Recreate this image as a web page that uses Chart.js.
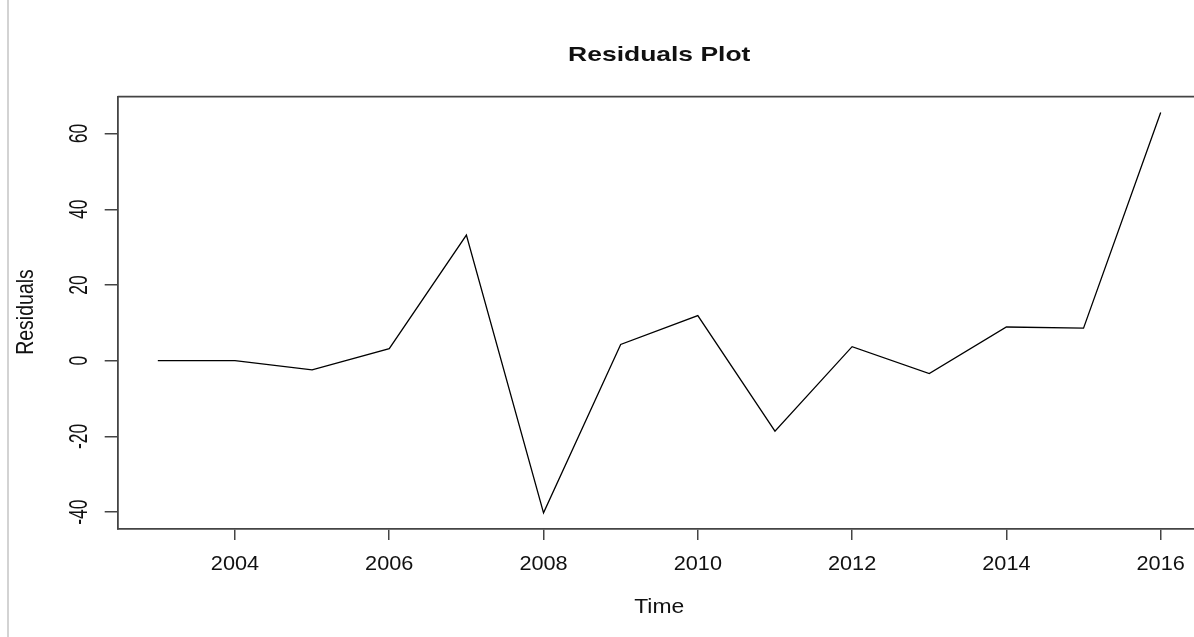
<!DOCTYPE html>
<html>
<head>
<meta charset="utf-8">
<title>Residuals Plot</title>
<script src="https://cdn.jsdelivr.net/npm/chart.js@4/dist/chart.umd.min.js"></script>
<style>
    body { margin: 0; background: #fff; overflow: hidden; }
    #wrap { width: 1194px; height: 637px; overflow: hidden; position: relative; }
    canvas { display: block; }
</style>
</head>
<body>
<div id="wrap"><canvas id="residChart" width="1202" height="637"></canvas></div>
<script>
// Data
const years = [2003, 2004, 2005, 2006, 2007, 2008, 2009, 2010, 2011, 2012, 2013, 2014, 2015, 2016];
const residuals = [0, 0, -2.4, 3.2, 33.2, -40.2, 4.3, 11.9, -18.6, 3.7, -3.4, 8.9, 8.6, 65.6];
const xTicks = [2004, 2006, 2008, 2010, 2012, 2014, 2016];
const yTicks = [-40, -20, 0, 20, 40, 60];

const FONT = '"Liberation Sans", Arial, sans-serif';
const AXIS_COLOR = '#444';

// draw text with a horizontal stretch (R output looks a bit wide)
function drawText(ctx, text, x, y, font, stretch, rotated) {
    ctx.save();
    ctx.translate(x, y);
    if (rotated) {
        ctx.rotate(-Math.PI / 2);
        ctx.scale(1, stretch);
    } else {
        ctx.scale(stretch, 1);
    }
    ctx.font = font;
    ctx.fillStyle = '#111';
    ctx.textAlign = 'center';
    ctx.textBaseline = 'alphabetic';
    ctx.fillText(text, 0, 0);
    ctx.restore();
}

// Frame, labels and titles
const rPlotDecor = {
    id: 'rPlotDecor',
    beforeDraw(chart) {
        const ctx = chart.ctx;
        ctx.save();
        ctx.fillStyle = '#fff';
        ctx.fillRect(0, 0, chart.width, chart.height);
        // page edge line on the left
        ctx.strokeStyle = '#c4c4c4';
        ctx.lineWidth = 1.5;
        ctx.beginPath();
        ctx.moveTo(8, 0);
        ctx.lineTo(8, chart.height);
        ctx.stroke();
        ctx.restore();
    },
    afterDraw(chart) {
        const ctx = chart.ctx;
        const area = chart.chartArea;
        const xs = chart.scales.x;
        const ys = chart.scales.y;
        const midX = (area.left + area.right) / 2;

        // top and right edges of the box
        ctx.save();
        ctx.strokeStyle = AXIS_COLOR;
        ctx.lineWidth = 1.8;
        ctx.beginPath();
        ctx.moveTo(area.left, area.top);
        ctx.lineTo(area.right, area.top);
        ctx.lineTo(area.right, area.bottom);
        ctx.stroke();
        ctx.restore();

        xTicks.forEach(v => {
            drawText(ctx, String(v), xs.getPixelForValue(v), 569.5, '20px ' + FONT, 1.085, false);
        });
        yTicks.forEach(v => {
            drawText(ctx, String(v), 87.3, ys.getPixelForValue(v), '17.5px ' + FONT, 1.5, true);
        });

        drawText(ctx, 'Residuals Plot', midX, 61, 'bold 21px ' + FONT, 1.26, false);
        drawText(ctx, 'Time', midX, 613, '21px ' + FONT, 1.09, false);
        drawText(ctx, 'Residuals', 33.3, 312, '19.5px ' + FONT, 1.2, true);
    }
};

function setupResidualsChart() {
    const ctx = document.getElementById('residChart').getContext('2d');
    new Chart(ctx, {
        type: 'line',
        data: {
            datasets: [{
                label: 'Residuals',
                data: years.map((yr, i) => ({ x: yr, y: residuals[i] })),
                borderColor: '#000',
                borderWidth: 1.3,
                pointRadius: 0,
                tension: 0,
                fill: false
            }]
        },
        options: {
            responsive: false,
            devicePixelRatio: 1,
            animation: false,
            layout: {
                padding: { top: 96.7, right: 1.2, bottom: 0, left: 0 }
            },
            plugins: {
                legend: { display: false },
                tooltip: { enabled: false }
            },
            scales: {
                x: {
                    type: 'linear',
                    min: 2002.48,
                    max: 2016.52,
                    afterBuildTicks: (scale) => {
                        scale.ticks = xTicks.map(v => ({ value: v }));
                    },
                    afterFit: (scale) => { scale.height = 108; },
                    ticks: { display: false },
                    grid: {
                        drawOnChartArea: false,
                        drawTicks: true,
                        tickLength: 11,
                        color: AXIS_COLOR,
                        lineWidth: 1.5
                    },
                    border: { display: true, color: AXIS_COLOR, width: 1.8 }
                },
                y: {
                    type: 'linear',
                    min: -44.47,
                    max: 69.75,
                    afterBuildTicks: (scale) => {
                        scale.ticks = yTicks.map(v => ({ value: v }));
                    },
                    afterFit: (scale) => { scale.width = 117.7; },
                    ticks: { display: false },
                    grid: {
                        drawOnChartArea: false,
                        drawTicks: true,
                        tickLength: 13,
                        color: AXIS_COLOR,
                        lineWidth: 1.5
                    },
                    border: { display: true, color: AXIS_COLOR, width: 1.8 }
                }
            }
        },
        plugins: [rPlotDecor]
    });
}

document.addEventListener('DOMContentLoaded', setupResidualsChart);
</script>
</body>
</html>
